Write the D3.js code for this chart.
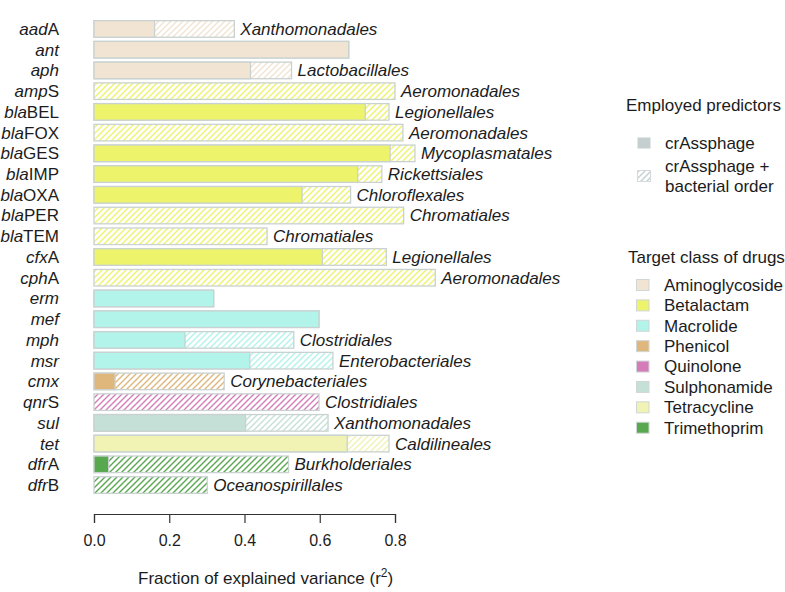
<!DOCTYPE html>
<html>
<head>
<meta charset="utf-8">
<script src="https://cdn.jsdelivr.net/npm/d3@7"></script>
<style>
  body { margin: 0; background: #fff; }
  text { font-family: "Liberation Sans", Arial, Helvetica, sans-serif; fill: #1c1c1c; }
</style>
</head>
<body>
<div id="chart"></div>
<script>
'use strict';
// gene names: italic part + plain suffix
var genePrefix = ["aad", "ant", "aph", "amp", "bla", "bla", "bla", "bla", "bla", "bla", "bla",
    "cfx", "cph", "erm", "mef", "mph", "msr", "cmx", "qnr", "sul", "tet", "dfr", "dfr"];
var geneSuffix = ["A", "", "", "S", "BEL", "FOX", "GES", "IMP", "OXA", "PER", "TEM",
    "A", "A", "", "", "", "", "", "S", "", "", "A", "B"];
var geneClass = ["Aminoglycoside", "Aminoglycoside", "Aminoglycoside", "Betalactam", "Betalactam",
    "Betalactam", "Betalactam", "Betalactam", "Betalactam", "Betalactam", "Betalactam",
    "Betalactam", "Betalactam", "Macrolide", "Macrolide", "Macrolide", "Macrolide",
    "Phenicol", "Quinolone", "Sulphonamide", "Tetracycline", "Trimethoprim", "Trimethoprim"];
// r2 with crAssphage only
var r2Phage = [0.161, 0.677, 0.416, 0, 0.721, 0, 0.787, 0.701, 0.553, 0, 0,
    0.607, 0, 0.318, 0.598, 0.242, 0.414, 0.056, 0, 0.403, 0.673, 0.039, 0];
// r2 with crAssphage + bacterial order
var r2Order = [0.373, 0.677, 0.525, 0.80, 0.784, 0.821, 0.853, 0.765, 0.682, 0.823, 0.46,
    0.777, 0.907, 0.318, 0.598, 0.531, 0.635, 0.346, 0.598, 0.622, 0.784, 0.517, 0.301];
var orderNames = ["Xanthomonadales", "", "Lactobacillales", "Aeromonadales", "Legionellales",
    "Aeromonadales", "Mycoplasmatales", "Rickettsiales", "Chloroflexales", "Chromatiales",
    "Chromatiales", "Legionellales", "Aeromonadales", "", "", "Clostridiales",
    "Enterobacteriales", "Corynebacteriales", "Clostridiales", "Xanthomonadales",
    "Caldilineales", "Burkholderiales", "Oceanospirillales"];
var drugClasses = ["Aminoglycoside", "Betalactam", "Macrolide", "Phenicol", "Quinolone",
    "Sulphonamide", "Tetracycline", "Trimethoprim"];
var classColors = ["#f2e4d2", "#eef36c", "#b2f3ea", "#dfb77c", "#d47db9",
    "#c5e0d6", "#f1f3b4", "#58a84f"];
var xTicks = [0, 0.2, 0.4, 0.6, 0.8];

var width = 785, height = 592;
var border = "#c9d2d1";
var fs = "17px";

var svg = d3.select("#chart").append("svg")
    .attr("width", width)
    .attr("height", height);

var color = d3.scaleOrdinal().domain(drugClasses).range(classColors);

// hatch patterns, one per class
var defs = svg.append("defs");
function addHatch(id, col) {
    var p = defs.append("pattern")
        .attr("id", id)
        .attr("patternUnits", "userSpaceOnUse")
        .attr("width", 6)
        .attr("height", 6);
    p.append("rect").attr("width", 6).attr("height", 6).attr("fill", "#fff");
    p.append("path")
        .attr("d", "M-1,1 L1,-1 M0,6 L6,0 M5,7 L7,5")
        .attr("stroke", col)
        .attr("stroke-width", 1.4);
}
drugClasses.forEach(function (c, i) {
    addHatch("hatch" + i, classColors[i]);
});
addHatch("hatchGray", "#c5cfcf");

var x = d3.scaleLinear().domain([0, 0.8]).range([94, 395]);
var rows = d3.range(genePrefix.length);
var y = d3.scaleBand()
    .domain(rows)
    .range([18.6, 495.4])
    .paddingInner(0.2)
    .paddingOuter(0.1);

var bars = svg.append("g");

// full bar (hatched)
bars.selectAll(".total")
    .data(rows)
    .enter().append("rect")
    .attr("class", "total")
    .attr("x", x(0))
    .attr("y", function (i) { return y(i); })
    .attr("width", function (i) { return x(r2Order[i]) - x(0); })
    .attr("height", y.bandwidth())
    .attr("fill", function (i) { return "url(#hatch" + drugClasses.indexOf(geneClass[i]) + ")"; })
    .attr("stroke", border)
    .attr("stroke-width", 1.3);

// crAssphage only (solid)
bars.selectAll(".solid")
    .data(rows.filter(function (i) { return r2Phage[i] > 0; }))
    .enter().append("rect")
    .attr("class", "solid")
    .attr("x", x(0))
    .attr("y", function (i) { return y(i); })
    .attr("width", function (i) { return x(r2Phage[i]) - x(0); })
    .attr("height", y.bandwidth())
    .attr("fill", function (i) { return color(geneClass[i]); })
    .attr("stroke", border)
    .attr("stroke-width", 1.3);

// bacterial order labels
bars.selectAll(".order")
    .data(rows.filter(function (i) { return orderNames[i] !== ""; }))
    .enter().append("text")
    .attr("class", "order")
    .attr("x", function (i) { return x(r2Order[i]) + 6; })
    .attr("y", function (i) { return y(i) + y.bandwidth() / 2; })
    .attr("dy", "0.35em")
    .style("font-size", fs)
    .style("font-style", "italic")
    .text(function (i) { return orderNames[i]; });

// gene labels
var geneText = svg.append("g").selectAll("text")
    .data(rows)
    .enter().append("text")
    .attr("x", 59)
    .attr("y", function (i) { return y(i) + y.bandwidth() / 2; })
    .attr("dy", "0.35em")
    .attr("text-anchor", "end")
    .style("font-size", fs);
geneText.append("tspan")
    .style("font-style", "italic")
    .text(function (i) { return genePrefix[i]; });
geneText.append("tspan")
    .text(function (i) { return geneSuffix[i]; });

// x axis
var axis = svg.append("g")
    .attr("transform", "translate(0,514)")
    .call(d3.axisBottom(x).tickValues(xTicks).tickFormat(d3.format(".1f"))
        .tickSize(9).tickPadding(12));
axis.select(".domain").attr("stroke", "#333").attr("stroke-width", 1.2);
axis.selectAll(".tick line").attr("stroke", "#333").attr("stroke-width", 1.2);
axis.selectAll(".tick text")
    .style("font-size", "16px")
    .style("font-family", "'Liberation Sans', Arial, sans-serif")
    .attr("fill", "#1c1c1c");

var title = svg.append("text")
    .attr("x", 138)
    .attr("y", 584)
    .style("font-size", fs)
    .text("Fraction of explained variance (r");
title.append("tspan").attr("dy", -7).style("font-size", "12px").text("2");
title.append("tspan").attr("dy", 7).text(")");

// legend: predictors
var leg1 = svg.append("g");
leg1.append("text").attr("x", 626).attr("y", 105).attr("dy", "0.35em")
    .style("font-size", fs).text("Employed predictors");
leg1.append("rect").attr("x", 637.5).attr("y", 137.5).attr("width", 13).attr("height", 11)
    .attr("fill", "#c5cfcf");
leg1.append("text").attr("x", 665).attr("y", 143).attr("dy", "0.35em")
    .style("font-size", fs).text("crAssphage");
leg1.append("rect").attr("x", 637.5).attr("y", 170.5).attr("width", 13).attr("height", 11)
    .attr("fill", "url(#hatchGray)").attr("stroke", "#d5dbdb").attr("stroke-width", 1);
leg1.append("text").attr("x", 665).attr("y", 166).attr("dy", "0.35em")
    .style("font-size", fs).text("crAssphage +");
leg1.append("text").attr("x", 665).attr("y", 186).attr("dy", "0.35em")
    .style("font-size", fs).text("bacterial order");

// legend: drug classes
var leg2 = svg.append("g");
leg2.append("text").attr("x", 628).attr("y", 257).attr("dy", "0.35em")
    .style("font-size", fs).text("Target class of drugs");
var ly = d3.scaleLinear().domain([0, drugClasses.length - 1]).range([285, 427.7]);
var items = leg2.selectAll(".item")
    .data(drugClasses)
    .enter().append("g")
    .attr("class", "item")
    .attr("transform", function (d, i) { return "translate(0," + ly(i) + ")"; });
items.append("rect")
    .attr("x", 636.5).attr("y", -5.5).attr("width", 12.5).attr("height", 11)
    .attr("fill", function (d) { return color(d); })
    .attr("stroke", "#d0d6d5").attr("stroke-width", 1);
items.append("text")
    .attr("x", 664).attr("dy", "0.35em")
    .style("font-size", fs)
    .text(function (d) { return d; });
</script>
</body>
</html>
